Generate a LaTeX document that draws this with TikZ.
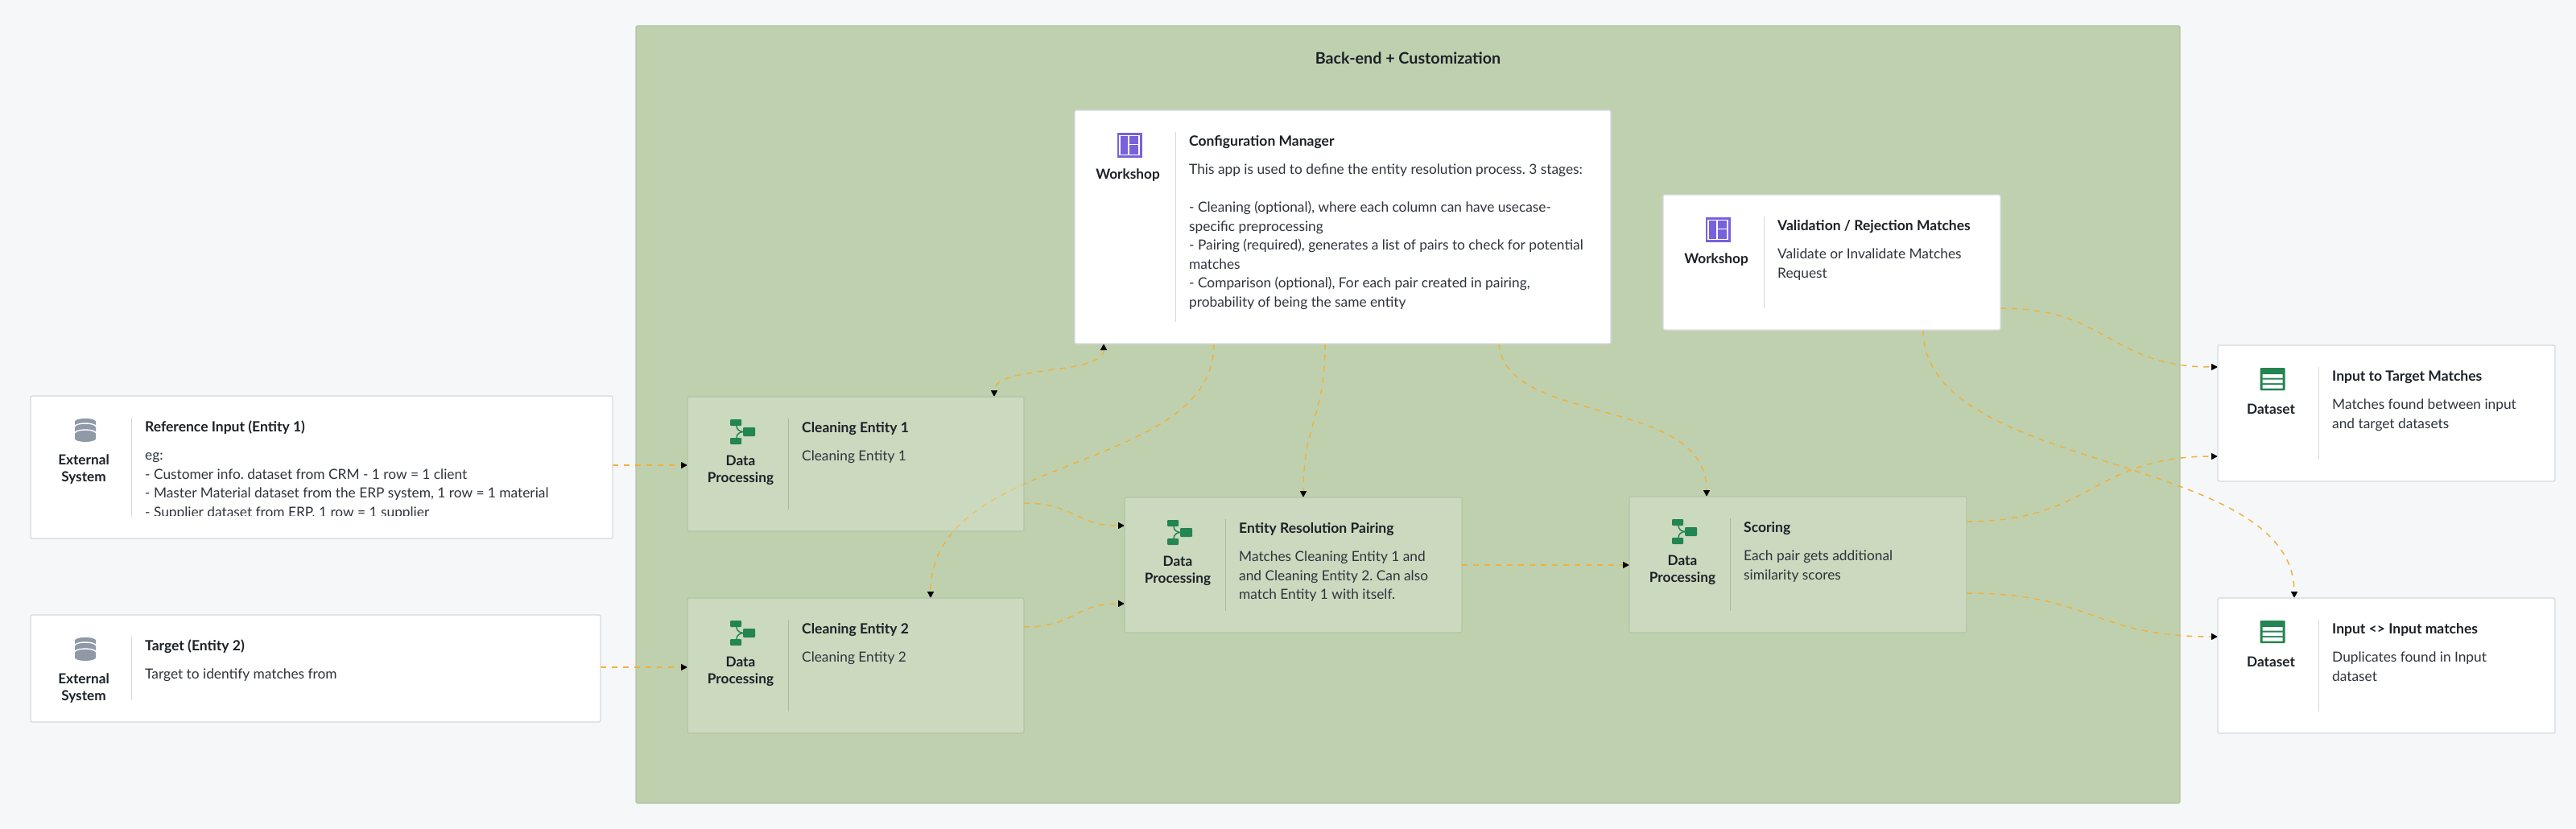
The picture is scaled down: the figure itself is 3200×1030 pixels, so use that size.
\documentclass[tikz,border=0pt]{standalone}
\usepackage{fontspec}
\setmainfont{Lato}
\usetikzlibrary{arrows.meta,backgrounds}
\frenchspacing

\definecolor{pagebg}{HTML}{F6F7F9}
\definecolor{groupbg}{HTML}{BFD0AF}
\definecolor{groupline}{HTML}{B3C4A3}
\definecolor{cardline}{HTML}{D5D9DE}
\definecolor{flowline}{HTML}{EFB23C}
\definecolor{inktitle}{HTML}{1C2127}
\definecolor{inkbody}{HTML}{2F343C}
\definecolor{iconpurple}{HTML}{7961DB}
\definecolor{icongreen}{HTML}{238551}
\definecolor{icongray}{HTML}{8F99A8}

\tikzset{
    whitecard/.style={rectangle, draw=cardline, line width=1.2pt, fill=white, rounded corners=2pt,
        anchor=north west, inner sep=0pt, outer sep=0pt},
    greencard/.style={rectangle, draw=groupline, line width=1.2pt, fill=white, fill opacity=0.2,
        rounded corners=2pt, anchor=north west, inner sep=0pt, outer sep=0pt},
    dividerline/.style={draw=inktitle, draw opacity=0.18, line width=1pt},
    kindtext/.style={anchor=north, align=center, inner sep=0pt, text=inktitle,
        font=\bfseries\fontsize{17.2}{21}\selectfont},
    titletext/.style={anchor=base west, inner sep=0pt, text=inktitle,
        font=\bfseries\fontsize{17.5}{21}\selectfont},
    bodytext/.style={anchor=north west, align=left, inner sep=0pt, text=inkbody,
        font=\fontsize{17.3}{23.5}\selectfont},
    flow/.style={draw=flowline, line width=1.5pt, dash pattern=on 7pt off 7pt,
        -{Triangle[black,length=8pt,width=8pt]}},
    bothflow/.style={flow, {Triangle[black,length=8pt,width=8pt]}-{Triangle[black,length=8pt,width=8pt]}},
    externalicon/.pic={
        \fill[icongray] (-13,4) arc[x radius=13, y radius=4, start angle=180, end angle=360]
            -- (13,25) arc[x radius=13, y radius=4, start angle=0, end angle=180] -- cycle;
        \fill[icongray] (0,4) ellipse[x radius=13, y radius=4];
        \draw[white, line width=1.4pt] (-13,10) arc[x radius=13, y radius=4, start angle=180, end angle=360];
        \draw[white, line width=1.4pt] (-13,18) arc[x radius=13, y radius=4, start angle=180, end angle=360];
    },
    workshopicon/.pic={
        \fill[iconpurple] (-15.5,0) rectangle (15.5,31);
        \draw[white, line width=1.3pt] (-12,3.5) rectangle (12,27.5) (-1,3.5) -- (-1,27.5) (-1,14.5) -- (12,14.5);
    },
    processicon/.pic={
        \fill[icongreen, rounded corners=1pt] (-15,0) rectangle (-1,8) (1,10) rectangle (16,21) (-15,23) rectangle (-1,31);
        \draw[icongreen, line width=1.5pt] (-7,8) .. controls (-7,13) and (-3,15) .. (1,15.5);
        \draw[icongreen, line width=1.5pt] (-7,23) .. controls (-7,18) and (-3,16) .. (1,15.5);
    },
    dataseticon/.pic={
        \fill[icongreen, rounded corners=1pt] (-15.5,0) rectangle (15.5,28);
        \fill[white] (-12.5,8) rectangle (12.5,12.5) (-12.5,14.5) rectangle (12.5,19) (-12.5,21) rectangle (12.5,25.5);
    },
}

% name, node options, position, icon, kind, title, body
\newcommand{\cardnode}[7]{
    \node (#1) [#2] at (#3) {};
    \pic at ([shift={(68,28)}]#1.north west) {#4};
    \node (#1-kind) [kindtext] at ([shift={(66,71)}]#1.north west) {\strut #5};
    \draw [dividerline] ([shift={(125,27)}]#1.north west) -- ([shift={(125,-27)}]#1.south west);
    \node (#1-title) [titletext] at ([shift={(142,44)}]#1.north west) {#6};
    \begin{scope}
        \clip ([shift={(126,27)}]#1.north west) rectangle ([shift={(0,-29)}]#1.south east);
        \node (#1-body) [bodytext] at ([shift={(142,63)}]#1.north west) {\strut #7};
    \end{scope}
}

\begin{document}
\begin{tikzpicture}[x=1pt, y=-1pt]
    \begin{scope}[on background layer]
        \path [use as bounding box, fill=pagebg] (0,0) rectangle (3200,1030);
        \node (group) at (790,32) [rectangle, draw=groupline, line width=1.2pt, fill=groupbg, rounded corners=2pt,
            anchor=north west, inner sep=0pt, outer sep=0pt, minimum width=1918pt, minimum height=966pt] {};
    \end{scope}
    \node (grouptitle) at (1749,72) [text=inktitle, font=\bfseries\fontsize{19.7}{24}\selectfont] {Back-end + Customization};

    \cardnode{refin}{whitecard, minimum width=723pt, minimum height=177pt}{38,492}{externalicon}{External\\System}
        {Reference Input (Entity 1)}
        {eg:\\- Customer info. dataset from CRM - 1 row = 1 client\\- Master Material dataset from the ERP system, 1 row = 1 material\\- Supplier dataset from ERP, 1 row = 1 supplier}
    \cardnode{target}{whitecard, minimum width=708pt, minimum height=133pt}{38,764}{externalicon}{External\\System}
        {Target (Entity 2)}
        {Target to identify matches from}
    \cardnode{cleanone}{greencard, minimum width=418pt, minimum height=167pt}{854,493}{processicon}{Data\\Processing}
        {Cleaning Entity 1}
        {Cleaning Entity 1}
    \cardnode{cleantwo}{greencard, minimum width=418pt, minimum height=168pt}{854,743}{processicon}{Data\\Processing}
        {Cleaning Entity 2}
        {Cleaning Entity 2}
    \cardnode{pairing}{greencard, minimum width=419pt, minimum height=168pt}{1397,618}{processicon}{Data\\Processing}
        {Entity Resolution Pairing}
        {Matches Cleaning Entity 1 and\\and Cleaning Entity 2. Can also\\match Entity 1 with itself.}
    \cardnode{scoring}{greencard, minimum width=419pt, minimum height=169pt}{2024,617}{processicon}{Data\\Processing}
        {Scoring}
        {Each pair gets additional\\similarity scores}
    \cardnode{config}{whitecard, minimum width=666pt, minimum height=290pt}{1335,137}{workshopicon}{Workshop}
        {Configuration Manager}
        {This app is used to define the entity resolution process. 3 stages:\\ \\- Cleaning (optional), where each column can have usecase-\\specific preprocessing\\- Pairing (required), generates a list of pairs to check for potential\\matches\\- Comparison (optional), For each pair created in pairing,\\probability of being the same entity}
    \cardnode{valid}{whitecard, minimum width=419pt, minimum height=168pt}{2066,242}{workshopicon}{Workshop}
        {Validation / Rejection Matches}
        {Validate or Invalidate Matches\\Request}
    \cardnode{tomatch}{whitecard, minimum width=419pt, minimum height=169pt}{2755,429}{dataseticon}{Dataset}
        {Input to Target Matches}
        {Matches found between input\\and target datasets}
    \cardnode{dupes}{whitecard, minimum width=419pt, minimum height=168pt}{2755,743}{dataseticon}{Dataset}
        {Input <> Input matches}
        {Duplicates found in Input\\dataset}

    \begin{scope}[on background layer]
        \draw [flow] ([shift={(0,86)}]refin.north east) -- ([shift={(0,85)}]cleanone.north west);
        \draw [flow] ([shift={(0,65)}]target.north east) -- ([shift={(0,86)}]cleantwo.north west);
        \draw [bothflow] ([shift={(36,0)}]config.south west) .. controls +(0,40) and +(0,-40) .. ([shift={(381,0)}]cleanone.north west);
        \draw [flow] ([shift={(173,0)}]config.south west) .. controls +(0,163) and +(0,-183) .. ([shift={(302,0)}]cleantwo.north west);
        \draw [flow] ([shift={(311,0)}]config.south west) .. controls +(0,93) and +(0,-93) .. ([shift={(222,0)}]pairing.north west);
        \draw [flow] ([shift={(527,0)}]config.south west) .. controls +(8,103) and +(0,-127) .. ([shift={(96,0)}]scoring.north west);
        \draw [flow] ([shift={(0,132)}]cleanone.north east) .. controls +(63,0) and +(-62,0) .. ([shift={(0,35)}]pairing.north west);
        \draw [flow] ([shift={(0,36)}]cleantwo.north east) .. controls +(63,0) and +(-62,0) .. ([shift={(0,132)}]pairing.north west);
        \draw [flow] ([shift={(0,84)}]pairing.north east) -- ([shift={(0,85)}]scoring.north west);
        \draw [flow] ([shift={(0,141)}]valid.north east) .. controls +(135,0) and +(-135,0) .. ([shift={(0,27)}]tomatch.north west);
        \draw [flow] ([shift={(323,0)}]valid.south west) .. controls +(0,180) and +(0,-183) .. ([shift={(95,0)}]dupes.north west);
        \draw [flow] ([shift={(0,31)}]scoring.north east) .. controls +(156,0) and +(-156,0) .. ([shift={(0,138)}]tomatch.north west);
        \draw [flow] ([shift={(0,120)}]scoring.north east) .. controls +(156,0) and +(-156,0) .. ([shift={(0,48)}]dupes.north west);
    \end{scope}
\end{tikzpicture}
\end{document}
